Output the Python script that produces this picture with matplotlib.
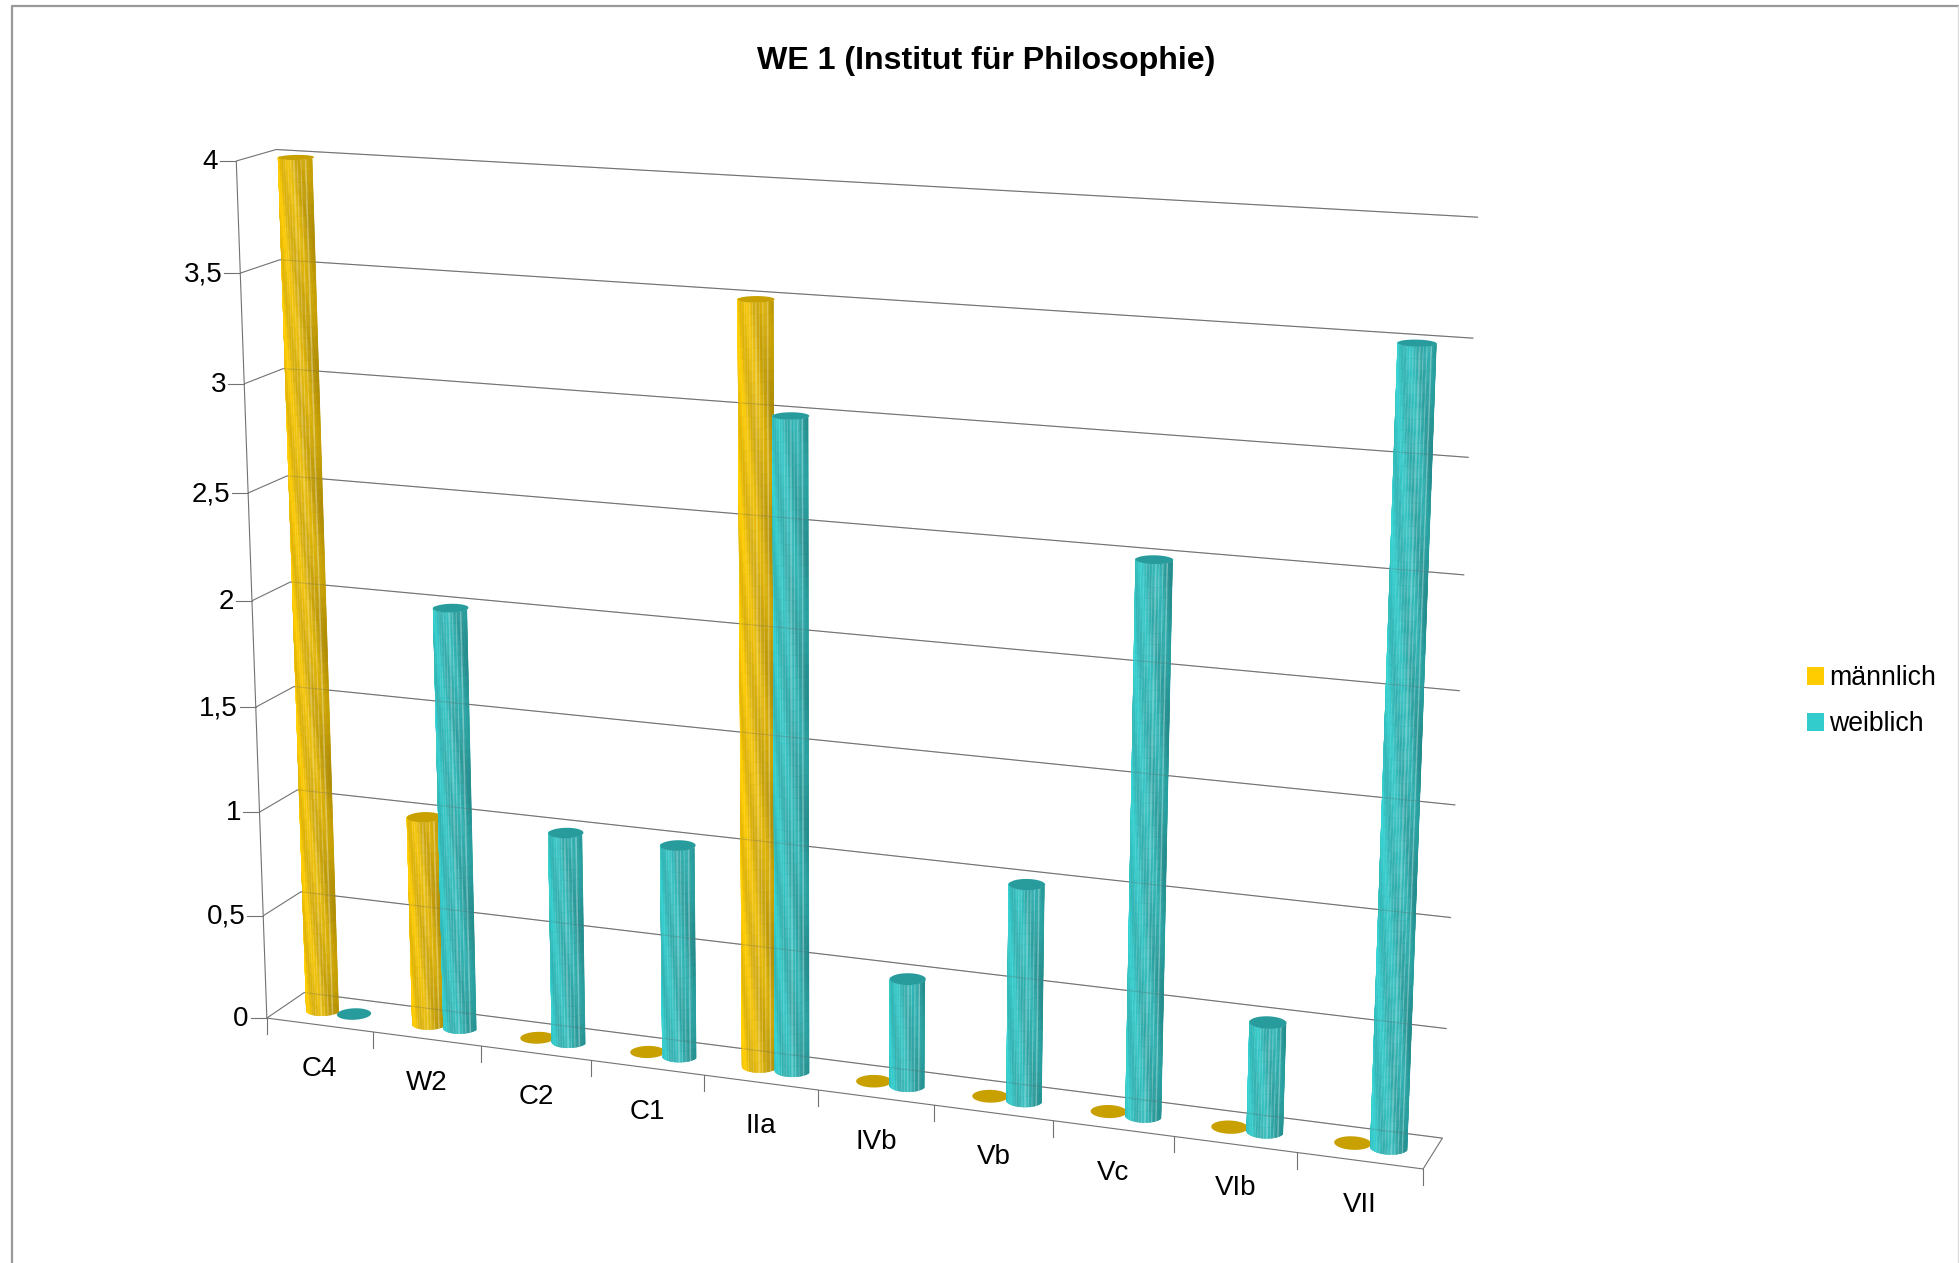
import numpy as np
import matplotlib
matplotlib.use('Agg')
import matplotlib.pyplot as plt
from matplotlib.collections import PolyCollection
from matplotlib.colors import to_rgb
from matplotlib.patches import Patch, Polygon

plt.rcParams['font.family'] = ['Liberation Sans', 'DejaVu Sans']

categories = ['C4', 'W2', 'C2', 'C1', 'IIa', 'IVb', 'Vb', 'Vc', 'VIb', 'VII']
maennlich = [4, 1, 0, 0, 3.5, 0, 0, 0, 0, 0]
weiblich = [0, 2, 1, 1, 3, 0.5, 1, 2.5, 0.5, 3.5]
y_ticks = [0, 0.5, 1, 1.5, 2, 2.5, 3, 3.5, 4]
y_labels = ['0', '0,5', '1', '1,5', '2', '2,5', '3', '3,5', '4']

W, H = 1959, 1263
YELLOW = '#FFCC00'
TEAL = '#33CCCC'
GREY = '#727272'

# anchor points of the 3d box: (category, depth, value) -> canvas position
anchors = [
    ((0, 0, 0), (267, 1018)), ((0, 1, 0), (304, 992)),
    ((10, 0, 0), (1423, 1169)), ((10, 1, 0), (1443, 1138)),
    ((0, 0, 4), (236, 161)), ((0, 1, 4), (277, 149)),
    ((10, 1, 4), (1478, 217)), ((5, 0, 0), (818, 1090)),
    ((10, 1, 2), (1459, 691)), ((0, 1, 2), (290, 583)),
]

# perspective matrix from the anchors (least squares)
A, b = [], []
for (X, Y, Z), (u, v) in anchors:
    A.append([X, Y, Z, 1, 0, 0, 0, 0, -u*X, -u*Y, -u*Z])
    A.append([0, 0, 0, 0, X, Y, Z, 1, -v*X, -v*Y, -v*Z])
    b += [u, v]
P = np.append(np.linalg.lstsq(np.array(A, float), np.array(b, float), rcond=None)[0], 1).reshape(3, 4)


def project(X, Y, Z):
    X, Y, Z = np.broadcast_arrays(np.asarray(X, float), np.asarray(Y, float), np.asarray(Z, float))
    pts = P @ np.stack([X.ravel(), Y.ravel(), Z.ravel(), np.ones(X.size)])
    return (pts[0] / pts[2]).reshape(X.shape), (pts[1] / pts[2]).reshape(X.shape)


def line3d(ax, a, b, **kw):
    xs, ys = project([a[0], b[0]], [a[1], b[1]], [a[2], b[2]])
    ax.plot(xs, ys, color=kw.pop('color', GREY), lw=kw.pop('lw', 0.8), solid_capstyle='butt', **kw)


def shade(color, t, z):
    # left edge bright, right edge dark, thin light stripes and slanted bands
    c = np.array(to_rgb(color))
    f = np.interp(t, [0, 0.12, 0.5, 0.85, 1], [1.08, 1.02, 0.95, 0.87, 0.78])
    f = f * (1 - 0.06 * (1 + np.cos(2 * np.pi * (2.2 * t + 1.6 * z))))
    out = c * f
    stripe = (np.floor(t * 36) % 3 == 0) * (0.06 + 0.28 * t)
    return out + (1 - out) * stripe


RX, RY = 0.145, 0.21


def cylinder(ax, cx, value, color, top_color):
    cy = 0.5
    phi = np.linspace(np.pi, 2 * np.pi, 61)
    if value > 0:
        zs = np.linspace(0, value, max(int(value * 20), 2) + 1)
        verts, cols = [], []
        for i in range(len(phi) - 1):
            t = 0.5 * (1 + np.cos((phi[i] + phi[i + 1]) / 2))
            x0, x1 = cx + RX * np.cos(phi[i]), cx + RX * np.cos(phi[i + 1])
            y0, y1 = cy + RY * np.sin(phi[i]), cy + RY * np.sin(phi[i + 1])
            for j in range(len(zs) - 1):
                qx, qy = project([x0, x1, x1, x0], [y0, y1, y1, y0], [zs[j], zs[j], zs[j + 1], zs[j + 1]])
                verts.append(np.column_stack([qx, qy]))
                cols.append(np.clip(shade(color, t, zs[j]), 0, 1))
        ax.add_collection(PolyCollection(verts, facecolors=cols, edgecolors=cols, linewidths=0.3, zorder=3))
    ring = np.linspace(0, 2 * np.pi, 73)
    ex, ey = project(cx + RX * np.cos(ring), cy + RY * np.sin(ring), value * np.ones_like(ring))
    ax.add_patch(Polygon(np.column_stack([ex, ey]), closed=True, fc=top_color, ec='none', zorder=3))


fig = plt.figure(figsize=(W / 100, H / 100), dpi=100)
ax = fig.add_axes([0, 0, 1, 1])
ax.set_xlim(0, W)
ax.set_ylim(H, 0)
ax.axis('off')

# outer frame of the chart area
ax.plot([12, 12, W - 1], [H, 6, 6], color='#999999', lw=1.6)
ax.plot([W - 1, W - 1], [6, H], color='#dddddd', lw=1.0)

# gridlines and walls
for v in y_ticks:
    line3d(ax, (0, 0, v), (0, 1, v))
    line3d(ax, (0, 1, v), (10, 1, v))
    tx, ty = project(0, 0, v)
    ax.plot([tx - 16, tx], [ty, ty], color=GREY, lw=0.8)
    ax.text(tx - 18, ty + 1, y_labels[y_ticks.index(v)], ha='right', va='center', fontsize=20, color='black')
line3d(ax, (0, 0, 0), (0, 0, 4))
line3d(ax, (0, 0, 0), (10, 0, 0))
line3d(ax, (10, 0, 0), (10, 1, 0))

for i in range(11):
    tx, ty = project(i, 0, 0)
    ax.plot([tx, tx], [ty, ty + 16], color=GREY, lw=0.8)
for i, name in enumerate(categories):
    tx, ty = project(i + 0.5, 0, 0)
    ax.text(tx, ty + 44, name, ha='center', va='center', fontsize=20, color='black')

# cylinders, left to right, male column first
for i in range(len(categories)):
    cylinder(ax, i + 0.5 - 0.14, maennlich[i], YELLOW, '#C8A000')
    cylinder(ax, i + 0.5 + 0.15, weiblich[i], TEAL, '#289C9C')

# the gridlines shine through a little
for v in y_ticks:
    xs, ys = project([0, 10], [1, 1], [v, v])
    ax.plot(xs, ys, color=GREY, lw=0.8, alpha=0.25, zorder=4)

ax.text(986, 61, 'WE 1 (Institut für Philosophie)', ha='center', va='center',
        fontsize=23.1, fontweight='bold', color='black')

handles = [Patch(fc=YELLOW, ec='none'), Patch(fc=TEAL, ec='none')]
ax.legend(handles, ['männlich', 'weiblich'], loc='center left', bbox_to_anchor=(1783, 701),
          bbox_transform=ax.transData, frameon=False, fontsize=19.2, handlelength=0.65, handleheight=0.65,
          handletextpad=0.17, labelspacing=0.75)

fig.savefig('out.png', dpi=100)
